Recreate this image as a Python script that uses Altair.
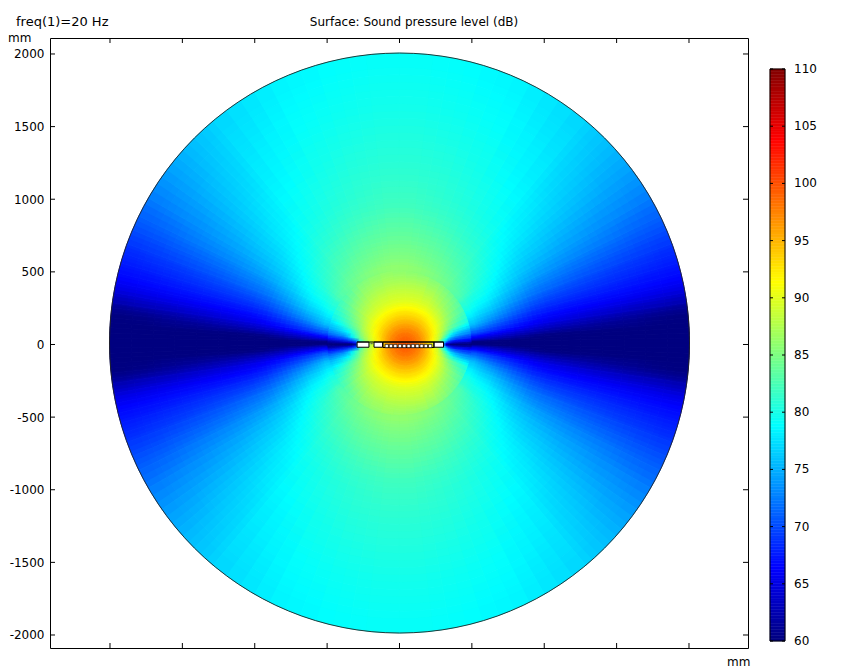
import math
import altair as alt
import pandas as pd

# --- values -----------------------------------------------------------------
FREQ_TEXT = "freq(1)=20 Hz"
TITLE_TEXT = "Surface: Sound pressure level (dB)"
AXIS_TICKS = [-2000, -1500, -1000, -500, 0, 500, 1000, 1500, 2000]
BAR_TICKS = [60, 65, 70, 75, 80, 85, 90, 95, 100, 105, 110]
COLOR_STOPS = [60, 66.25, 78.75, 91.25, 103.75, 110]
COLORS = ["#000080", "#0000ff", "#00ffff", "#ffff00", "#ff0000", "#800000"]
XLIM = [-2414.5, 2407.6]
YLIM = [-2089.5, 2110]

# far field, one quadrant (mirrored): rows = angle above the plate, columns = radius
OUTER_CENTER = (0, 10)
OUTER_R = [500, 560, 630, 710, 800, 900, 1000, 1120, 1250, 1400, 1550, 1700, 1850, 2000]
OUTER_A = [0, 1, 2, 3, 4, 5, 6, 7, 8, 10, 12, 14, 16, 18, 20, 23, 26, 30, 35, 40, 45, 50, 60, 70, 80, 90]
OUTER_V = [
    [60, 60, 60, 60, 60, 60, 60, 60, 60, 60, 60, 60, 60],
    [60.4, 60.3, 60.2, 60.1, 60, 60, 60, 60, 60, 60, 60, 60, 60],
    [63, 62.5, 61.9, 61.4, 60.8, 60.2, 60, 60, 60, 60, 60, 60, 60],
    [64.9, 64, 63.2, 62.4, 61.5, 60.7, 60.3, 60.2, 60.2, 60.1, 60.1, 60, 60],
    [66.1, 65.2, 64.4, 63.5, 62.7, 61.9, 61.4, 61.1, 60.9, 60.7, 60.5, 60.2, 60.1],
    [67.3, 66.4, 65.6, 64.7, 63.8, 63, 62.4, 62, 61.5, 61.1, 60.8, 60.4, 60.1],
    [68.8, 67.8, 66.9, 66, 65, 64.1, 63.4, 62.9, 62.4, 61.9, 61.5, 61, 60.7],
    [70, 69, 68, 67, 66, 65, 64.3, 63.8, 63.2, 62.8, 62.3, 61.9, 61.5],
    [71.2, 70.2, 69.2, 68.2, 67.1, 66.1, 65.5, 65, 64.6, 64.2, 63.8, 63.5, 63.1],
    [73, 71.8, 70.7, 69.5, 68.3, 67.3, 66.7, 66.4, 66.1, 65.8, 65.5, 65.3, 65.1],
    [74.6, 73.4, 72.1, 70.8, 69.5, 68.3, 67.7, 67.4, 67.2, 67, 66.8, 66.6, 66.4],
    [75.9, 74.6, 73.4, 72.1, 70.7, 69.5, 68.8, 68.5, 68.2, 67.9, 67.6, 67.3, 67.1],
    [76.5, 75.4, 74.4, 73.1, 71.7, 70.5, 69.8, 69.4, 69.1, 68.7, 68.4, 68.1, 67.8],
    [77.3, 76.2, 75.4, 74.1, 72.7, 71.5, 70.8, 70.3, 69.9, 69.5, 69.1, 68.8, 68.4],
    [78.2, 77.2, 76.4, 75.2, 73.9, 72.7, 72, 71.5, 71, 70.5, 70.1, 69.7, 69.4],
    [79.2, 78.2, 77.5, 76.3, 75.1, 74, 73.2, 72.7, 72.2, 71.7, 71.3, 70.8, 70.5],
    [80.1, 79.2, 78.5, 77.5, 76.3, 75.3, 74.6, 74, 73.5, 73, 72.5, 72, 71.6],
    [81, 80.1, 79.6, 78.6, 77.5, 76.6, 75.9, 75.4, 74.8, 74.3, 73.8, 73.4, 73],
    [82.5, 81.5, 80.5, 79.6, 78.6, 77.7, 77, 76.5, 76, 75.5, 75.1, 74.6, 74.3],
    [83.1, 82.2, 81.3, 80.4, 79.4, 78.6, 78, 77.5, 77, 76.5, 76.1, 75.7, 75.4],
    [83.6, 82.7, 81.9, 81, 80.1, 79.3, 78.7, 78.2, 77.8, 77.3, 76.9, 76.6, 76.2],
    [84.3, 83.5, 82.6, 81.8, 80.9, 80.2, 79.6, 79.2, 78.7, 78.3, 78, 77.6, 77.3],
    [85, 84.2, 83.4, 82.6, 81.7, 81, 80.4, 80, 79.6, 79.3, 78.9, 78.6, 78.3],
    [85.5, 84.7, 83.9, 83.1, 82.3, 81.5, 81, 80.6, 80.2, 79.8, 79.4, 79.1, 78.8],
    [85.8, 85, 84.3, 83.5, 82.7, 81.9, 81.4, 80.9, 80.5, 80.1, 79.7, 79.4, 79],
]

# near field round the hot spot (top/bottom mirrored): rows = angle from +x, columns = distance
INNER_CENTER = (40, 0)
INNER_R = [0, 30, 60, 90, 120, 150, 180, 210, 240, 270, 300, 330, 360, 390, 420, 450, 480, 510, 540]
INNER_A = [0, 1, 3, 6, 10, 15, 20, 30, 45, 60, 90, 120, 135, 150, 160, 165, 170, 174, 177, 179, 180]
INNER_V = [
    [99.2, 98.8, 98, 96.6, 94.7, 92.4, 89.8, 86.5, 79, 62, 60, 60, 60, 60, 60, 60, 60, 60],
    [99.2, 98.8, 98, 96.6, 94.7, 92.5, 90, 87, 80, 66, 63.5, 62.5, 62.2, 62, 61.8, 61.5, 61, 60.7],
    [99.2, 98.8, 98, 96.7, 94.8, 92.6, 90.2, 87.5, 81.5, 74, 69, 67.4, 67, 66.8, 66.6, 66.4, 65.8, 65.1],
    [99.2, 98.8, 98, 96.8, 95, 93, 91, 88.8, 84, 79, 74.5, 72.5, 71.5, 71, 70.6, 70.3, 70, 69.6],
    [99.2, 98.8, 98, 96.9, 95.2, 93.5, 91.6, 89.5, 87, 83, 79.5, 77, 75.8, 75, 74.6, 74.2, 73.8, 73.4],
    [99.2, 98.8, 98, 97, 95.4, 93.8, 92, 90, 88, 85.5, 83, 81.5, 80.5, 79.7, 78.9, 78.1, 77.2, 76.3],
    [99.2, 98.8, 98, 97, 95.5, 94, 92.4, 90.8, 89.2, 87.6, 86, 84.7, 83.6, 82.6, 81.8, 81, 80.2, 79.4],
    [99.2, 98.8, 98, 97, 95.6, 94.3, 92.9, 91.6, 90.3, 89, 87.8, 86.6, 85.6, 84.8, 84, 83.2, 82.4, 81.7],
    [99.2, 98.8, 98, 97, 95.8, 94.5, 93.3, 92.1, 91, 89.8, 88.7, 87.8, 87, 86.3, 85.6, 84.9, 84.2, 83.6],
    [99.2, 98.8, 98, 97, 95.8, 94.6, 93.4, 92.4, 91.3, 90.2, 89.4, 88.8, 88.2, 87.6, 86.9, 86.2, 85.6, 85],
    [99.2, 98.8, 98, 97, 95.8, 94.6, 93.4, 92.4, 91.3, 90.2, 89.4, 88.9, 88.3, 87.7, 87.1, 86.7, 86.2, 85.8],
    [99.2, 98.8, 98, 97, 95.8, 94.5, 93.3, 92.2, 91.1, 90, 89.2, 88.5, 87.8, 87.2, 86.6, 86, 85.4, 84.9],
    [99.2, 98.8, 98, 97, 95.7, 94.4, 93.1, 92, 90.9, 89.8, 88.8, 87.8, 87, 86.1, 85.2, 84.3, 83.5, 82.8],
    [99.2, 98.8, 98, 97, 95.6, 94.2, 92.8, 91.5, 90.2, 88.9, 87.5, 86.2, 85, 83.9, 82.9, 82, 81.2, 80.5],
    [99.2, 98.8, 98, 97, 95.5, 94, 92.5, 91, 89.5, 88, 86.5, 84.5, 83, 81.8, 80.5, 79.5, 78.6, 77.8],
    [99.2, 98.8, 98, 96.9, 95.4, 93.8, 92.2, 90.5, 89, 87.3, 85.3, 82.5, 80.5, 78.5, 77.5, 76.5, 75.8, 75.2],
    [99.2, 98.8, 98, 96.8, 95.2, 93.5, 91.8, 90, 88.3, 86.3, 84, 81, 78, 75, 73.5, 72.8, 72.2, 71.6],
    [99.2, 98.8, 98, 96.8, 95, 93.2, 91.3, 89.5, 87.5, 85, 81.5, 73, 71, 69.5, 68.5, 68, 67.5, 67],
    [99.2, 98.8, 98, 96.8, 95, 93, 91, 89, 87, 84, 80, 68, 65, 63.5, 63, 62.5, 62, 61.5],
    [99.2, 98.8, 98, 96.8, 95, 93, 91, 89, 87, 84, 79, 62, 60, 60, 60, 60, 60, 60],
]

# the plate in the middle, mm: x0, x1, y0, y1
PLATE_BLOCKS = [(-293, -211, -19, 17), (-176, -117, -19, 17), (238, 304, -19, 17)]
PLATE_FRAME = [(-114, 238, -21, 17)]
PLATE_SQUARES_X = [-88, -59, -29, 3, 33, 63, 93, 123, 153, 182, 212]
PLATE_SQUARE_W = 23
PLATE_SQUARE_Y = (-22, 1)
PLATE_TOP = (-293, 304, 17)
HOLE = [(-200, -185, 2, 9)]


# --- tables ------------------------------------------------------------------
def moved(edges, f):
    """Band edges moved by a share f of the neighbouring band, ends kept."""
    out = []
    for k, e in enumerate(edges):
        if f > 0 and 0 < k < len(edges) - 1:
            out.append(e + f * (edges[k + 1] - e))
        elif f < 0 and 0 < k < len(edges) - 1:
            out.append(e + f * (e - edges[k - 1]))
        else:
            out.append(e)
    return out


def outer_table(f):
    A, R = moved(OUTER_A, f), moved(OUTER_R, f)
    rows = []
    for i, row in enumerate(OUTER_V):
        a0, a1 = A[i], A[i + 1]
        for j, v in enumerate(row):
            for t0, t1 in [(90 - a1, 90 - a0), (90 + a0, 90 + a1), (270 - a1, 270 - a0), (270 + a0, 270 + a1)]:
                rows.append(dict(cx=OUTER_CENTER[0], cy=OUTER_CENTER[1], t0=t0, t1=t1, r0=R[j], r1=R[j + 1], v=v))
    return pd.DataFrame(rows)


def inner_table(f):
    A, R = moved(INNER_A, f), moved(INNER_R, f)
    rows = []
    for i, row in enumerate(INNER_V):
        a0, a1 = A[i], A[i + 1]
        for j, v in enumerate(row):
            for t0, t1 in [(90 - a1, 90 - a0), (90 + a0, 90 + a1)]:
                rows.append(dict(cx=INNER_CENTER[0], cy=INNER_CENTER[1], t0=t0, t1=t1, r0=R[j], r1=R[j + 1], v=v))
    return pd.DataFrame(rows)


rim = pd.DataFrame([dict(cx=OUTER_CENTER[0], cy=OUTER_CENTER[1], t0=0, t1=360, r1=OUTER_R[-1])])
blocks = pd.DataFrame(PLATE_BLOCKS, columns=["x0", "x1", "y0", "y1"])
frame = pd.DataFrame(PLATE_FRAME, columns=["x0", "x1", "y0", "y1"])
squares = pd.DataFrame([dict(x0=x - PLATE_SQUARE_W / 2, x1=x + PLATE_SQUARE_W / 2,
                             y0=PLATE_SQUARE_Y[0], y1=PLATE_SQUARE_Y[1]) for x in PLATE_SQUARES_X])
top_line = pd.DataFrame([dict(x0=PLATE_TOP[0], x1=PLATE_TOP[1], y0=PLATE_TOP[2])])
hole = pd.DataFrame(HOLE, columns=["x0", "x1", "y0", "y1"])
axis_ticks = pd.DataFrame({"t": AXIS_TICKS})
bar_ticks = pd.DataFrame({"v": BAR_TICKS})
bar_cells = pd.DataFrame({"v": [60 + 0.25 * i for i in range(200)]})
bar_cells["v2"] = bar_cells["v"] + 0.25
bar_box = pd.DataFrame({"v": [BAR_TICKS[0]], "v2": [BAR_TICKS[-1]]})

# --- scales ------------------------------------------------------------------
FONT = "DejaVu Sans"
W, H = 698, 610
BAR_X0, BAR_X1 = 720, 735
x_scale = alt.Scale(domain=XLIM, nice=False, zero=False)
y_scale = alt.Scale(domain=YLIM, nice=False, zero=False)
theta_scale = alt.Scale(domain=[0, 360], range=[0, math.tau])
radius_scale = alt.Scale(type="linear", domain=[0, 2000], range=[0, 290], zero=True, nice=False)
spl_scale = alt.Scale(domain=COLOR_STOPS, range=COLORS, clamp=True, interpolate="rgb")
bar_scale = alt.Scale(domain=[60, 110], range=[603, 31], nice=False, zero=False)


def X(f):
    return alt.X(f, type="quantitative", scale=x_scale, axis=None)


def Y(f):
    return alt.Y(f, type="quantitative", scale=y_scale, axis=None)


def BarY(f="v"):
    return alt.Y(f, type="quantitative", scale=bar_scale, axis=None)


def arcs(df, opacity=1.0):
    kw = {"strokeWidth": 0.7} if opacity == 1.0 else {"opacity": opacity}
    enc = dict(
        x=X("cx"), y=Y("cy"),
        theta=alt.Theta("t0:Q", scale=theta_scale, stack=False),
        theta2="t1:Q",
        radius=alt.Radius("r1:Q", scale=radius_scale, stack=False),
        radius2="r0:Q",
        color=alt.Color("v:Q", scale=spl_scale, legend=None),
    )
    if opacity == 1.0:
        enc["stroke"] = alt.Stroke("v:Q", scale=spl_scale, legend=None)
    return alt.Chart(df).mark_arc(**kw).encode(**enc)


base_axes = alt.Chart(rim).mark_point(opacity=0).encode(
    x=alt.X("cx:Q", scale=x_scale, title=None, axis=alt.Axis(
        values=AXIS_TICKS, tickSize=0, grid=False, domain=False, labelFont=FONT, labelFontSize=12,
        labelColor="black", labelPadding=4, labelExpr="'' + datum.value", labelFlush=False)),
    y=alt.Y("cy:Q", scale=y_scale, title=None, axis=alt.Axis(
        values=AXIS_TICKS, tickSize=0, grid=False, domain=False, labelFont=FONT, labelFontSize=12,
        labelColor="black", labelPadding=6, labelExpr="'' + datum.value", labelFlush=False)),
)

rim_line = alt.Chart(rim).mark_arc(filled=False, stroke="#222222", strokeWidth=0.9, fillOpacity=0).encode(
    x=X("cx"), y=Y("cy"),
    theta=alt.Theta("t0:Q", scale=theta_scale, stack=False), theta2="t1:Q",
    radius=alt.Radius("r1:Q", scale=radius_scale, stack=False),
)


def rects(df, **kw):
    return alt.Chart(df).mark_rect(**kw).encode(x=X("x0"), x2="x1", y=Y("y0"), y2="y1")


plate_blocks = rects(blocks, color="white", stroke="black", strokeWidth=1)
plate_frame = rects(frame, filled=False, stroke="black", strokeWidth=1)
plate_squares = rects(squares, color="white", stroke="black", strokeWidth=0.7)
plate_hole = rects(hole, color="#555555")
plate_top = alt.Chart(top_line).mark_rule(color="black", strokeWidth=1.2).encode(x=X("x0"), x2="x1", y=Y("y0"))

tick_layers = []
for y0, y1 in [(H, H - 5), (0, 5)]:
    tick_layers.append(alt.Chart(axis_ticks).mark_rule(color="black", strokeWidth=1).encode(
        x=X("t"), y=alt.value(y0), y2=alt.value(y1)))
for x0, x1 in [(0, 5), (W, W - 5)]:
    tick_layers.append(alt.Chart(axis_ticks).mark_rule(color="black", strokeWidth=1).encode(
        y=Y("t"), x=alt.value(x0), x2=alt.value(x1)))

bar_strip = alt.Chart(bar_cells).mark_rect(strokeWidth=0.5).encode(
    y=BarY("v"), y2="v2:Q", x=alt.value(BAR_X0), x2=alt.value(BAR_X1),
    color=alt.Color("v:Q", scale=spl_scale, legend=None),
    stroke=alt.Stroke("v:Q", scale=spl_scale, legend=None),
)
bar_outline = alt.Chart(bar_box).mark_rect(filled=False, stroke="black", strokeWidth=1).encode(
    y=BarY("v"), y2="v2:Q", x=alt.value(BAR_X0), x2=alt.value(BAR_X1),
)
bar_tick_layers = []
for x0, x1 in [(BAR_X0, BAR_X0 + 3), (BAR_X1 - 3, BAR_X1)]:
    bar_tick_layers.append(alt.Chart(bar_ticks).mark_rule(color="black", strokeWidth=1).encode(
        y=BarY("v"), x=alt.value(x0), x2=alt.value(x1)))
bar_labels = alt.Chart(bar_ticks).mark_text(
    align="left", baseline="middle", font=FONT, fontSize=12, color="black"
).encode(y=BarY("v"), x=alt.value(744), text="v:Q")


def label(text, px, py, align="left", size=12):
    return alt.Chart(pd.DataFrame({"s": [text]})).mark_text(
        align=align, baseline="middle", font=FONT, fontSize=size, color="black"
    ).encode(x=alt.value(px), y=alt.value(py), text="s:N")


chart = alt.layer(
    base_axes,
    arcs(inner_table(0)), arcs(inner_table(1 / 3), 0.5), arcs(inner_table(-1 / 3), 1 / 3),
    arcs(outer_table(0)), arcs(outer_table(1 / 3), 0.5), arcs(outer_table(-1 / 3), 1 / 3),
    rim_line,
    plate_blocks, plate_frame, plate_squares, plate_hole, plate_top,
    *tick_layers,
    bar_strip, bar_outline,
    *bar_tick_layers,
    bar_labels,
    label(FREQ_TEXT, -34, -16, size=13),
    label(TITLE_TEXT, 364, -16, "center"),
    label("mm", -42, 0),
    label("mm", 677, 624),
).resolve_scale(y="independent").properties(
    width=W, height=H,
    padding={"left": 42, "top": 30, "right": 80, "bottom": 22},
    autosize=alt.AutoSizeParams(type="none"),
).configure_view(stroke="black", strokeWidth=1)

chart.save("out.html", embed_options={"renderer": "svg", "actions": False})
